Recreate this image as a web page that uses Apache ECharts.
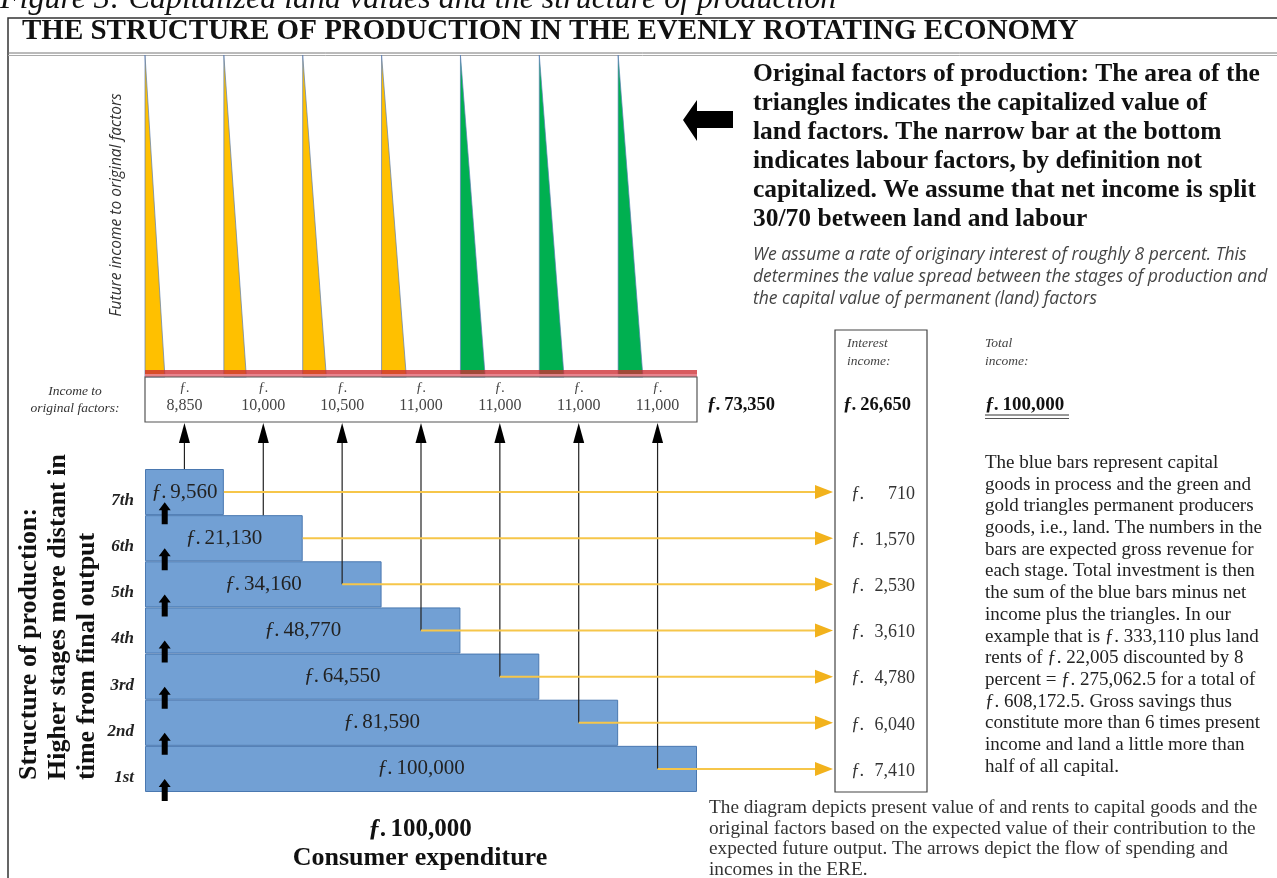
<!DOCTYPE html>
<html>
<head>
<meta charset="utf-8">
<script src="https://cdn.jsdelivr.net/npm/echarts@6/dist/echarts.min.js"></script>
<style>
    html, body { margin: 0; padding: 0; background: #fff; }
    #chart { width: 1277px; height: 878px; }
</style>
</head>
<body>
<div id="chart"></div>
<script>
// stages of production, 1st = closest to consumption
const stages = ['1st', '2nd', '3rd', '4th', '5th', '6th', '7th'];
const stageRevenue = [100000, 81590, 64550, 48770, 34160, 21130, 9560];
const stageSpan = [7, 6, 5, 4, 3, 2, 1];               // bar length, in columns
const interestIncome = [7410, 6040, 4780, 3610, 2530, 1570, 710];
const factorIncome = [11000, 11000, 11000, 11000, 10500, 10000, 8850];
const landRent = [3300, 3300, 3300, 3300, 3150, 3000, 2655];   // 30% of factor income
const landType = ['green', 'green', 'green', 'gold', 'gold', 'gold', 'gold'];
const consumerSpending = 100000;

// layout
const LEFT = 145, PLOT_W = 552, COLS = 7;
const RIGHT = 1277 - LEFT - PLOT_W;
const INT_LEFT = 835, INT_RIGHT = 927;
const BOX_BOTTOM = 422;
const RENT_PER_COL = 10500;   // triangle base width scale
const SERIF = '"Liberation Serif", "DejaVu Serif", serif';
const SANS = '"Open Sans", "Noto Sans", sans-serif';

const fmt = v => v.toLocaleString('en-US');
const sum = a => a.reduce((s, v) => s + v, 0);

let myChart = echarts.init(document.getElementById('chart'));

function txt(x, y, text, font, extra) {
    return Object.assign({
        type: 'text', x: x, y: y, silent: true,
        style: Object.assign({ text: text, font: font, fill: '#111', textVerticalAlign: 'middle' }, (extra || {}).style)
    }, extra && extra.rotation ? { rotation: extra.rotation } : {});
}
function money(x, y, value, size, align) {
    return {
        type: 'text', x: x, y: y, silent: true,
        style: { text: '{i|ƒ.} {b|' + fmt(value) + '}', textAlign: align || 'left', textVerticalAlign: 'middle',
            rich: { i: { font: 'italic bold ' + size + 'px ' + SERIF, fill: '#111' }, b: { font: 'bold ' + size + 'px ' + SERIF, fill: '#111' } } }
    }
}

const boldLines = [
    'Original factors of production: The area of the',
    'triangles indicates the capitalized value of',
    'land factors. The narrow bar at the bottom',
    'indicates labour factors, by definition not',
    'capitalized. We assume that net income is split',
    '30/70 between land and labour'
];
const italicLines = [
    'We assume a rate of originary interest of roughly 8 percent. This',
    'determines the value spread between the stages of production and',
    'the capital value of permanent (land) factors'
];
const noteLines = [
    'The blue bars represent capital',
    'goods in process and the green and',
    'gold triangles permanent producers',
    'goods, i.e., land. The numbers in the',
    'bars are expected gross revenue for',
    'each stage. Total investment is then',
    'the sum of the blue bars minus net',
    'income plus the triangles. In our',
    'example that is ƒ. 333,110 plus land',
    'rents of ƒ. 22,005 discounted by 8',
    'percent = ƒ. 275,062.5 for a total of',
    'ƒ. 608,172.5. Gross savings thus',
    'constitute more than 6 times present',
    'income and land a little more than',
    'half of all capital.'
];
const bottomLines = [
    'The diagram depicts present value of and rents to capital goods and the',
    'original factors based on the expected value of their contribution to the',
    'expected future output. The arrows depict the flow of spending and',
    'incomes in the ERE.'
];
const sideTitle = ['Structure of production:', 'Higher stages more distant in', 'time from final output'];

let graphics = [
    // frame
    { type: 'rect', shape: { x: 8, y: 18, width: 1300, height: 900 }, style: { fill: 'none', stroke: '#333', lineWidth: 1.5 }, silent: true },
    { type: 'line', shape: { x1: 8, y1: 53, x2: 1277, y2: 53 }, style: { stroke: '#777', lineWidth: 1 }, silent: true },
    { type: 'line', shape: { x1: 8, y1: 55.5, x2: 1277, y2: 55.5 }, style: { stroke: '#aaa', lineWidth: 1 }, silent: true },
    txt(0, 0, 'Figure 3: Capitalized land values and the structure of production', 'italic 32px ' + SERIF),
    { type: 'rect', shape: { x: 8.75, y: 18.75, width: 1290, height: 34 }, style: { fill: '#fff' }, silent: true, z: -1 },
    txt(22, 32, 'THE STRUCTURE OF PRODUCTION IN THE EVENLY ROTATING ECONOMY', 'bold 29px ' + SERIF),
    // left pointing arrow
    { type: 'polygon', shape: { points: [[683, 120], [697, 100], [697, 111], [733, 111], [733, 128], [697, 128], [697, 141]] }, style: { fill: '#000' }, silent: true },
    // interest income box
    { type: 'rect', shape: { x: INT_LEFT, y: 330, width: INT_RIGHT - INT_LEFT, height: 462 }, style: { fill: 'none', stroke: '#444', lineWidth: 1.2 }, silent: true },
    txt(117, 205, 'Future income to original factors', 'italic 15.5px ' + SANS, { rotation: Math.PI / 2, style: { textAlign: 'center', fill: '#333' } }),
    txt(75, 391, 'Income to', 'italic 13.5px ' + SERIF, { style: { textAlign: 'center', fill: '#333' } }),
    txt(75, 408, 'original factors:', 'italic 13.5px ' + SERIF, { style: { textAlign: 'center', fill: '#333' } }),
    txt(847, 343, 'Interest', 'italic 13.5px ' + SERIF, { style: { fill: '#444' } }),
    txt(847, 361, 'income:', 'italic 13.5px ' + SERIF, { style: { fill: '#444' } }),
    txt(985, 343, 'Total', 'italic 13.5px ' + SERIF, { style: { fill: '#444' } }),
    txt(985, 361, 'income:', 'italic 13.5px ' + SERIF, { style: { fill: '#444' } }),
    money(707, 405, sum(factorIncome), 18.5),
    money(843, 405, sum(interestIncome), 18.5),
    money(985, 405, sum(factorIncome) + sum(interestIncome), 19),
    { type: 'line', shape: { x1: 985, y1: 415, x2: 1069, y2: 415 }, style: { stroke: '#333', lineWidth: 1 }, silent: true },
    { type: 'line', shape: { x1: 985, y1: 418.5, x2: 1069, y2: 418.5 }, style: { stroke: '#555', lineWidth: 1 }, silent: true },
    money(420, 830, consumerSpending, 25, 'center'),
    txt(420, 858, 'Consumer expenditure', 'bold 26px ' + SERIF, { style: { textAlign: 'center' } })
];
sideTitle.forEach((t, i) => graphics.push(txt(29 + i * 29, 780, t, 'bold 26px ' + SERIF, { rotation: Math.PI / 2, style: { textAlign: 'left' } })));
boldLines.forEach((t, i) => graphics.push(txt(753, 74 + i * 29, t, 'bold 25.5px ' + SERIF)));
italicLines.forEach((t, i) => graphics.push(txt(753, 255 + i * 22, t, 'italic 17.5px ' + SANS, { style: { fill: '#444' } })));
noteLines.forEach((t, i) => graphics.push(txt(985, 463 + i * 21.7, t, '19px ' + SERIF, { style: { fill: '#222' } })));
bottomLines.forEach((t, i) => graphics.push(txt(709, 808 + i * 20.7, t, '19.3px ' + SERIF, { style: { fill: '#333' } })));

myChart.setOption({
    animation: false,
    backgroundColor: '#fff',
    grid: [
        { left: LEFT, right: RIGHT, top: 55, height: 322, outerBoundsMode: 'none' },   // triangles
        { left: LEFT, right: RIGHT, top: 377, height: BOX_BOTTOM - 377, outerBoundsMode: 'none' },   // income box
        { left: LEFT, right: RIGHT, top: 469, height: 323, outerBoundsMode: 'none' }    // stages
    ],
    xAxis: [
        { gridIndex: 0, type: 'value', min: 0, max: COLS, show: false },
        { gridIndex: 1, type: 'value', min: 0, max: COLS, show: false },
        { gridIndex: 2, type: 'value', min: 0, max: COLS, show: false }
    ],
    yAxis: [
        { gridIndex: 0, type: 'value', min: 0, max: 1, show: false },
        { gridIndex: 1, type: 'value', min: 0, max: 1, show: false },
        {
            gridIndex: 2, type: 'category', data: stages,
            axisLine: { show: false }, axisTick: { show: false }, splitLine: { show: false },
            axisLabel: {
                margin: 11, verticalAlign: 'top',
                fontFamily: SERIF, fontStyle: 'italic', fontWeight: 'bold', fontSize: 17, color: '#222'
            }
        }
    ],
    graphic: { elements: graphics },
    series: [
        {
            // capitalized land value triangles
            type: 'custom', xAxisIndex: 0, yAxisIndex: 0, clip: false,
            data: stages.map((s, i) => [COLS - 1 - i, landRent[i]]),
            renderItem(params, api) {
                let col = api.value(0), rent = api.value(1)
                let top = api.coord([col, 1]), bl = api.coord([col, 0]), br = api.coord([col + rent / RENT_PER_COL, 0])
                return {
                    type: 'polygon',
                    shape: { points: [top, bl, br] },
                    style: { fill: landType[params.dataIndex] === 'gold' ? '#ffc000' : '#00b050', stroke: '#5a7db5', lineWidth: 0.7 }
                }
            }
        },
        {
            // labour bar + income box
            type: 'custom', xAxisIndex: 1, yAxisIndex: 1, clip: false,
            data: [[0, COLS]],
            renderItem(params, api) {
                let a = api.coord([api.value(0), 1]), b = api.coord([api.value(1), 0])
                return {
                    type: 'group',
                    children: [
                        { type: 'rect', shape: { x: a[0], y: a[1] - 7, width: b[0] - a[0], height: 7 }, style: { fill: 'rgba(205,45,50,0.78)' } },
                        { type: 'rect', shape: { x: a[0], y: a[1] - 3, width: b[0] - a[0], height: 3 }, style: { fill: 'rgba(235,140,150,0.85)' } },
                        { type: 'rect', shape: { x: a[0], y: a[1], width: b[0] - a[0], height: b[1] - a[1] }, style: { fill: 'none', stroke: '#555', lineWidth: 1.2 } }
                    ]
                }
            }
        },
        {
            // income to original factors
            type: 'custom', xAxisIndex: 1, yAxisIndex: 1, clip: false,
            data: stages.map((s, i) => [COLS - 1 - i + 0.5, factorIncome[i]]),
            renderItem(params, api) {
                let p = api.coord([api.value(0), 0.5])
                return {
                    type: 'group',
                    children: [
                        { type: 'text', x: p[0], y: p[1] - 11, style: { text: 'ƒ.', font: 'italic 14px ' + SERIF, fill: '#444', textAlign: 'center', textVerticalAlign: 'middle' } },
                        { type: 'text', x: p[0], y: p[1] + 6, style: { text: fmt(api.value(1)), font: '16px ' + SERIF, fill: '#444', textAlign: 'center', textVerticalAlign: 'middle' } }
                    ]
                }
            }
        },
        {
            // capital goods in process
            type: 'bar', xAxisIndex: 2, yAxisIndex: 2,
            data: stageSpan,
            barCategoryGap: '0%',
            itemStyle: { color: '#72a0d4', borderColor: '#4a78b0', borderWidth: 1 },
            label: {
                show: true, position: 'inside',
                formatter: p => '{f|ƒ.} {n|' + fmt(stageRevenue[p.dataIndex]) + '}',
                rich: {
                    f: { fontFamily: SERIF, fontStyle: 'italic', fontSize: 21, color: '#222' },
                    n: { fontFamily: SERIF, fontSize: 21, color: '#222' }
                }
            }
        },
        {
            // flow of spending: factor incomes up, interest to the right
            type: 'custom', xAxisIndex: 2, yAxisIndex: 2, clip: false, z: 3,
            data: stages.map((s, i) => [stageSpan[i], i, interestIncome[i]]),
            renderItem(params, api) {
                let span = api.value(0), i = api.value(1)
                let band = api.size([0, 1])[1]
                let yc = api.coord([0, i])[1]
                let xc = api.coord([COLS - 1 - i + 0.5, i])[0]
                let barEnd = api.coord([span, i])[0]
                let short = span <= 2
                let yStart = short ? yc - band / 2 : yc
                let xStart = short ? barEnd : xc
                let num = fmt(api.value(2))
                return {
                    type: 'group',
                    children: [
                        { type: 'line', shape: { x1: xc, y1: yStart, x2: xc, y2: BOX_BOTTOM + 16 }, style: { stroke: '#222', lineWidth: 1.2 } },
                        { type: 'polygon', shape: { points: [[xc, BOX_BOTTOM + 1], [xc - 5.5, BOX_BOTTOM + 21], [xc + 5.5, BOX_BOTTOM + 21]] }, style: { fill: '#000' } },
                        { type: 'line', shape: { x1: xStart, y1: yc, x2: INT_LEFT - 18, y2: yc }, style: { stroke: '#f6c64a', lineWidth: 2 } },
                        { type: 'polygon', shape: { points: [[INT_LEFT - 2, yc], [INT_LEFT - 20, yc - 7], [INT_LEFT - 20, yc + 7]] }, style: { fill: '#f2b21c' } },
                        { type: 'text', x: 851, y: yc + 2, style: { text: 'ƒ.', font: 'italic 18px ' + SERIF, fill: '#333', textVerticalAlign: 'middle' } },
                        { type: 'text', x: 915, y: yc + 2, style: { text: num, font: '18px ' + SERIF, fill: '#333', textAlign: 'right', textVerticalAlign: 'middle' } }
                    ]
                }
            }
        },
        {
            // small up arrows between stages
            type: 'custom', xAxisIndex: 2, yAxisIndex: 2, clip: false, z: 4,
            data: stages.map((s, i) => [0.25, i]),
            renderItem(params, api) {
                let p = api.coord([api.value(0), api.value(1)])
                let yb = p[1] + api.size([0, 1])[1] / 2
                let x = p[0]
                return {
                    type: 'polygon',
                    shape: { points: [[x, yb - 13], [x + 6, yb - 5], [x + 3, yb - 5], [x + 3, yb + 9], [x - 3, yb + 9], [x - 3, yb - 5], [x - 6, yb - 5]] },
                    style: { fill: '#000' }
                }
            }
        }
    ]
});
</script>
</body>
</html>
